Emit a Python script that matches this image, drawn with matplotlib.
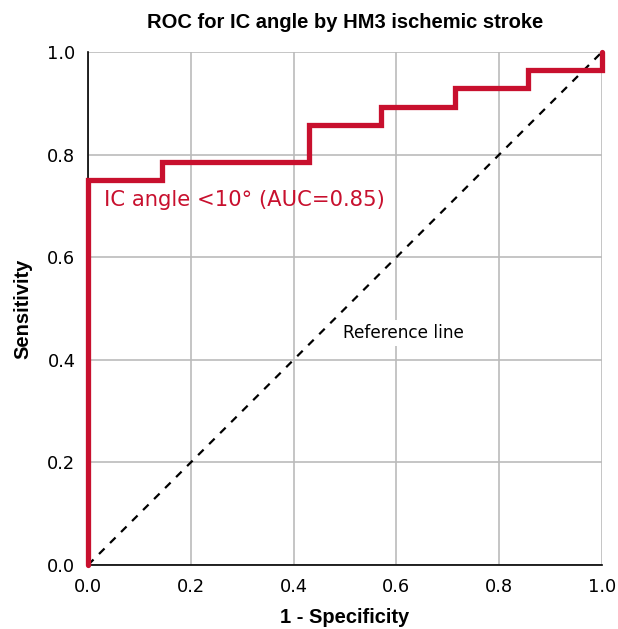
import matplotlib
matplotlib.use("Agg")
import matplotlib.pyplot as plt

# ROC step curve data
fpr = [0.0, 0.0, 0.143, 0.143, 0.429, 0.429, 0.571, 0.571, 0.714, 0.714, 0.857, 0.857, 1.0, 1.0]
tpr = [0.0, 0.75, 0.75, 0.786, 0.786, 0.857, 0.857, 0.893, 0.893, 0.929, 0.929, 0.964, 0.964, 1.0]
ref_x = [0.0, 1.0]
ref_y = [0.0, 1.0]
ticks = [0.0, 0.2, 0.4, 0.6, 0.8, 1.0]
tick_labels = ["0.0", "0.2", "0.4", "0.6", "0.8", "1.0"]

red = "#C8102E"

fig = plt.figure(figsize=(6.18, 6.29), dpi=100)
ax = fig.add_axes([88/618, 1-565/629, (602-88)/618, (565-52)/629])

ax.set_xlim(0, 1)
ax.set_ylim(0, 1)
ax.set_xticks(ticks)
ax.set_yticks(ticks)
ax.set_xticklabels(tick_labels, fontsize=12.8, family="DejaVu Sans")
ax.set_yticklabels(tick_labels, fontsize=12.8, family="DejaVu Sans")
ax.tick_params(axis="x", length=0, pad=9)
ax.tick_params(axis="y", length=0, pad=9)
ax.grid(True, color="#BBBBBB", linewidth=1.2)
ax.set_axisbelow(True)

for s in ["top", "right"]:
    ax.spines[s].set_visible(False)
for s in ["left", "bottom"]:
    ax.spines[s].set_color("black")
    ax.spines[s].set_linewidth(1.2)

ax.plot(ref_x, ref_y, color="black", linestyle=(0, (3.5, 3.5)), linewidth=1.6, zorder=3)
ax.plot(fpr, tpr, color=red, linewidth=3.8, solid_joinstyle="miter", solid_capstyle="round", zorder=4, clip_on=False)

ax.text(0.497, 0.452, "Reference line", fontsize=12.2, family="DejaVu Sans", color="black",
        ha="left", va="center", zorder=5,
        bbox=dict(facecolor="white", edgecolor="none", pad=3))
ax.text(0.031, 0.711, "IC angle <10° (AUC=0.85)", fontsize=15.2, family="DejaVu Sans", color=red,
        ha="left", va="center", zorder=5)

ax.set_title("ROC for IC angle by HM3 ischemic stroke", fontsize=14.5, fontweight="bold",
             family="Liberation Sans", pad=17)
ax.set_xlabel("1 - Specificity", fontsize=14.5, fontweight="bold", family="Liberation Sans", labelpad=9)
ax.set_ylabel("Sensitivity", fontsize=14.5, fontweight="bold", family="Liberation Sans", labelpad=11)

fig.savefig("out.png", dpi=100, facecolor="white")
